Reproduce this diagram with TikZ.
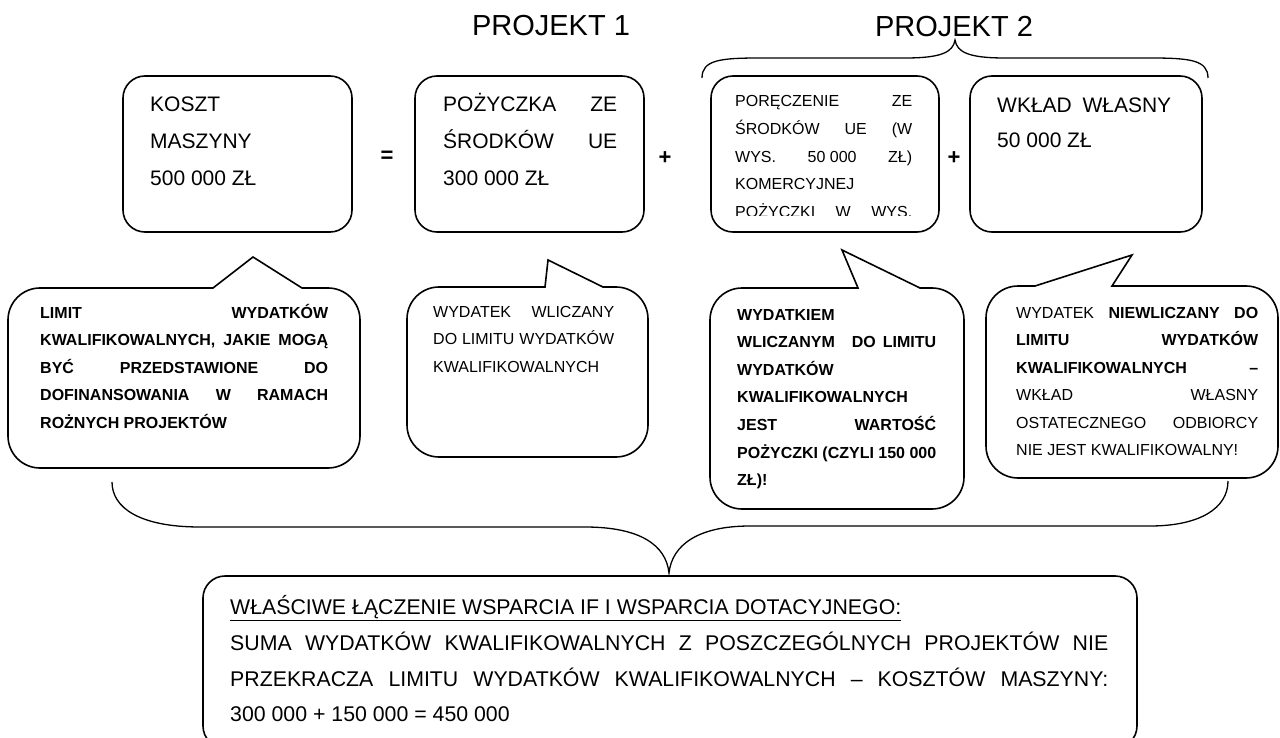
\documentclass[tikz,border=0pt]{standalone}
\usepackage{fontspec}
\setmainfont{Liberation Sans}
\newcommand\fxsp{\kern0.278em}
% callout: x1 y1 x2 y2 tailbaseleft apexx apexy tailbaseright radius
\newcommand\mycallout[9]{%
  \draw[bub] (#5,#2) -- (#6,#7) -- (#8,#2) -- ({#3-#9},#2)
    .. controls ({#3-0.448*#9},#2) and (#3,{#2+0.448*#9}) .. (#3,{#2+#9})
    -- (#3,{#4-#9})
    .. controls (#3,{#4-0.448*#9}) and ({#3-0.448*#9},#4) .. ({#3-#9},#4)
    -- ({#1+#9},#4)
    .. controls ({#1+0.448*#9},#4) and (#1,{#4-0.448*#9}) .. (#1,{#4-#9})
    -- (#1,{#2+#9})
    .. controls (#1,{#2+0.448*#9}) and ({#1+0.448*#9},#2) .. ({#1+#9},#2)
    -- cycle;}
\begin{document}
\begin{tikzpicture}[x=1pt,y=-1pt,
  frame/.style={draw, line width=1.6pt, rounded corners=22pt, fill=white},
  bub/.style={draw, line width=1.6pt, fill=white},
  brc/.style={draw, line width=1.3pt},
  tbig/.style={font=\fontsize{21}{37}\selectfont, inner sep=0pt, anchor=base west},
  tsm/.style={font=\fontsize{16}{27.6}\selectfont, inner sep=0pt, anchor=base west},
  tsmb/.style={font=\fontsize{16}{27.6}\selectfont\bfseries, inner sep=0pt, anchor=base west},
  tbot/.style={font=\fontsize{21.3}{35.8}\selectfont, inner sep=0pt, anchor=base west},
  ttl/.style={font=\fontsize{29}{35}\selectfont, inner sep=0pt, anchor=base},
  op/.style={font=\fontsize{22}{26}\selectfont\bfseries, inner sep=0pt},
]
\useasboundingbox (0,0) rectangle (1280,738);
\fill[white] (0,0) rectangle (1280,738);
\clip (0,0) rectangle (1280,738);

% titles
\node[ttl] (p1) at (551,36) {PROJEKT 1};
\node[ttl] (p2) at (954,37) {PROJEKT 2};

% top brace over project 2
\draw[brc] (702,78) .. controls (702,60) and (720,58) .. (760,58) -- (905,58)
  .. controls (942,58) and (953,52) .. (955,40)
  .. controls (957,52) and (968,58) .. (1005,58) -- (1150,58)
  .. controls (1190,58) and (1208,60) .. (1208,78);

% top boxes
\draw[frame] (123,76) rectangle (352,232);
\draw[frame] (415,76) rectangle (644,232);
\draw[frame] (711,76) rectangle (939,232);
\draw[frame] (970,76) rectangle (1202,232);

\node[tbig] (k1) at (150,111.5) {\vtop{\hbox{KOSZT}\hbox{MASZYNY}\hbox{500 000 ZŁ}}};
\node[tbig] (k2) at (443,111.5) {\vtop{\hbox to 174pt{POŻYCZKA ZE}\hbox to 174pt{ŚRODKÓW UE}\hbox{300\fxsp 000 ZŁ}}};
\begin{scope}
  \clip (712,78) rectangle (938,215.5);
  \node[tsm] (k3) at (735,107) {\vtop{\hbox to 177pt{PORĘCZENIE ZE}\hbox to 177pt{ŚRODKÓW UE (W}\hbox to 177pt{WYS. 50\fxsp 000 ZŁ)}\hbox{KOMERCYJNEJ}\hbox to 177pt{POŻYCZKI W WYS.}}};
\end{scope}
\node[tbig] (k4) at (997,113) {\vtop{\baselineskip=35pt\hbox to 174pt{WKŁAD WŁASNY}\hbox{50\fxsp 000 ZŁ}}};

\node[op] (eq) at (387,157) {=};
\node[op] (pl1) at (665,158) {+};
\node[op] (pl2) at (954,158) {+};

% callouts
\mycallout{8}{288}{360}{468}{213}{253}{257}{302}{32}
\mycallout{407}{287}{648}{457}{545}{548}{260}{603}{32}
\mycallout{710}{288}{964}{509}{858}{842}{250}{920}{32}
\mycallout{986}{286}{1278}{478}{1035}{1132}{255}{1112}{32}

\node[tsmb] (c1) at (40,318) {\vtop{%
  \hbox to 288pt{LIMIT WYDATKÓW}%
  \hbox to 288pt{KWALIFIKOWALNYCH, JAKIE MOGĄ}%
  \hbox to 288pt{BYĆ PRZEDSTAWIONE DO}%
  \hbox to 288pt{DOFINANSOWANIA W RAMACH}%
  \hbox{ROŻNYCH PROJEKTÓW}}};
\node[tsm] (c2) at (433,317) {\vtop{%
  \hbox to 181pt{WYDATEK WLICZANY}%
  \hbox to 181pt{DO LIMITU WYDATKÓW}%
  \hbox{KWALIFIKOWALNYCH}}};
\node[tsmb] (c3) at (737,320) {\vtop{%
  \hbox{WYDATKIEM}%
  \hbox to 199pt{WLICZANYM\hspace{10pt} DO LIMITU}%
  \hbox{WYDATKÓW}%
  \hbox{KWALIFIKOWALNYCH}%
  \hbox to 199pt{JEST WARTOŚĆ}%
  \hbox to 199pt{POŻYCZKI (CZYLI 150\fxsp 000}%
  \hbox{ZŁ)!}}};
\node[tsm] (c4) at (1016,318) {\vtop{%
  \hbox to 242pt{WYDATEK \textbf{NIEWLICZANY DO}}%
  \hbox to 242pt{\textbf{LIMITU WYDATKÓW}}%
  \hbox to 242pt{\textbf{KWALIFIKOWALNYCH –}}%
  \hbox to 242pt{WKŁAD WŁASNY}%
  \hbox to 242pt{OSTATECZNEGO ODBIORCY}%
  \hbox{NIE JEST KWALIFIKOWALNY!}}};

% bottom brace
\draw[brc] (112,482) .. controls (112,508) and (140,527) .. (200,527) -- (585,527)
  .. controls (640,527) and (666,545) .. (669,573)
  .. controls (672,545) and (698,526) .. (750,526) -- (1150,526)
  .. controls (1200,526) and (1228,508) .. (1228,481);

% bottom box
\draw[frame] (203,576) rectangle (1137,748);
\node[tbot] (bt) at (230,614.5) {\vtop{%
  \hbox{\underline{WŁAŚCIWE ŁĄCZENIE WSPARCIA IF I WSPARCIA DOTACYJNEGO:}}%
  \hbox to 878pt{SUMA WYDATKÓW KWALIFIKOWALNYCH Z POSZCZEGÓLNYCH PROJEKTÓW NIE}%
  \hbox to 878pt{PRZEKRACZA LIMITU WYDATKÓW KWALIFIKOWALNYCH – KOSZTÓW MASZYNY:}%
  \hbox{300\fxsp 000 + 150\fxsp 000 = 450\fxsp 000}}};
\end{tikzpicture}
\end{document}
